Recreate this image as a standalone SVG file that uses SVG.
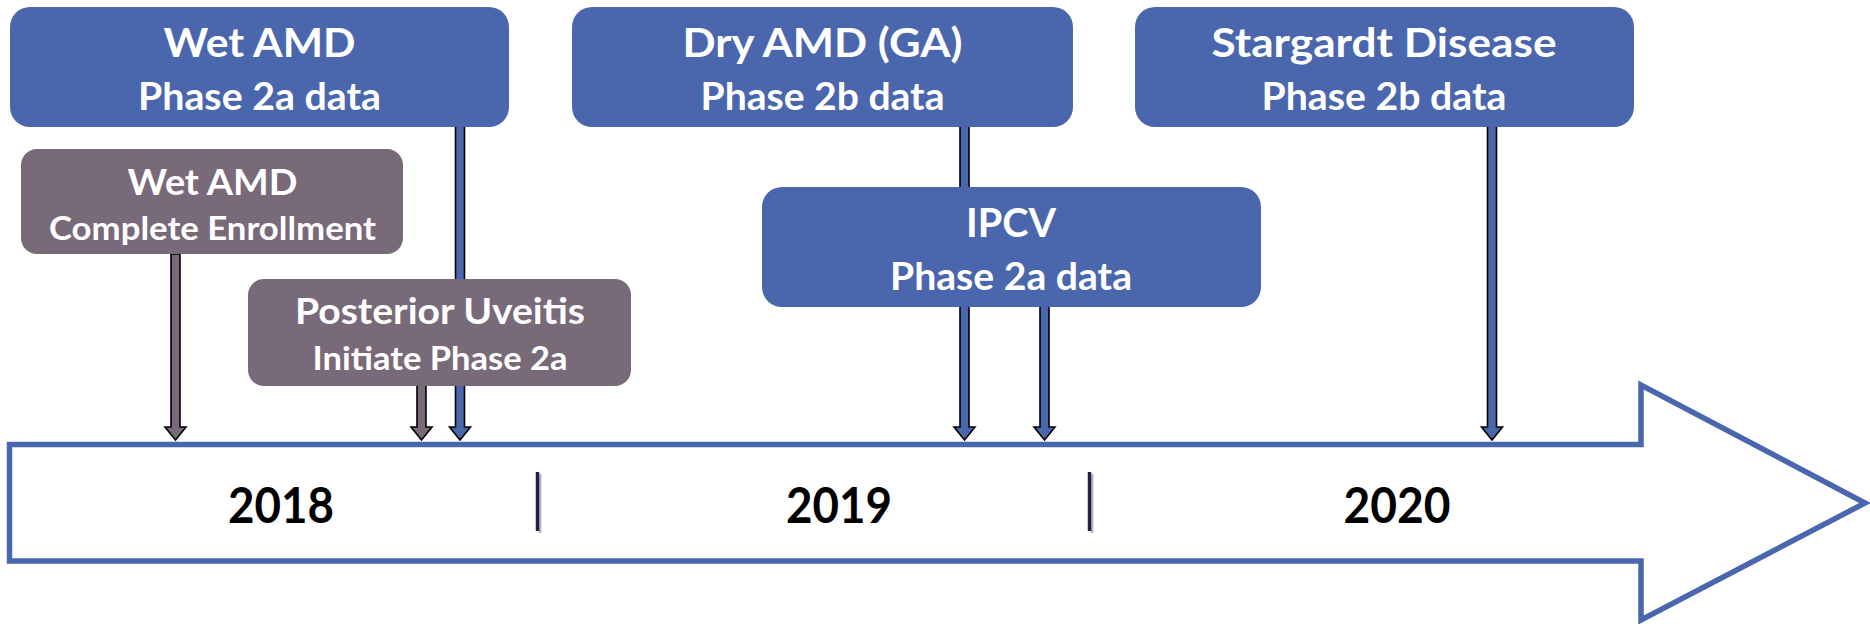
<svg xmlns="http://www.w3.org/2000/svg" width="1870" height="624" viewBox="0 0 1870 624">
<style>
.blue{fill:#4A67AD}
.grey{fill:#796A7A}
.t{font-family:Lato,"Liberation Sans",sans-serif;font-weight:700;fill:#fff;text-anchor:middle}
.h1{font-size:41px}
.h2{font-size:38px}
.g1{font-size:36px}
.g2{font-size:32px}
.yr{font-family:Lato,"Liberation Sans",sans-serif;font-weight:700;font-size:49px;fill:#000;text-anchor:middle}
.arB{fill:#4A67AD;stroke:#000;stroke-width:1.6;stroke-linejoin:miter}
.arG{fill:#796A7A;stroke:#000;stroke-width:1.6;stroke-linejoin:miter}
.tick{stroke:#1E2046;stroke-width:3.5}
.tsh{stroke:#B8B8BC;stroke-width:3}
</style>
<rect width="1870" height="624" fill="#fff"/>
<g id="timeline">
<path d="M9.5,444.5 H1641 V385 L1865,503 L1641,620 V561 H9.5 Z" fill="#fff" stroke="#4A67AD" stroke-width="5.5" stroke-linejoin="miter"/>
<line class="tsh" x1="540" y1="474" x2="540" y2="533"/>
<line class="tick" x1="537.5" y1="472" x2="537.5" y2="531"/>
<line class="tsh" x1="1092" y1="474" x2="1092" y2="533"/>
<line class="tick" x1="1089.5" y1="472" x2="1089.5" y2="531"/>
<text class="yr" x="281" y="523" textLength="106" lengthAdjust="spacingAndGlyphs">2018</text>
<text class="yr" x="839" y="523" textLength="106" lengthAdjust="spacingAndGlyphs">2019</text>
<text class="yr" x="1397" y="523" textLength="107" lengthAdjust="spacingAndGlyphs">2020</text>
</g>
<g id="connectors">
<path class="arG" d="M171,254 V427 H165 L175.5,440 L186,427 H180 V254 Z"/>
<path class="arG" d="M417,385 V427 H411 L421.5,440 L432,427 H426 V385 Z"/>
<path class="arB" d="M455.5,126 V427 H449.5 L460,440 L470.5,427 H464.5 V126 Z"/>
<path class="arB" d="M960,126 V427 H954 L964.5,440 L975,427 H969 V126 Z"/>
<path class="arB" d="M1040,306 V427 H1034 L1044.5,440 L1055,427 H1049 V306 Z"/>
<path class="arB" d="M1487.5,126 V427 H1481.5 L1492,440 L1502.5,427 H1496.5 V126 Z"/>
</g>
<g id="wet-amd-data">
<rect class="blue" x="10" y="7" width="499" height="120" rx="20"/>
<text class="t h1" x="259.5" y="57" textLength="192" lengthAdjust="spacingAndGlyphs">Wet AMD</text>
<text class="t h2" x="259.5" y="110" textLength="243" lengthAdjust="spacingAndGlyphs">Phase 2a data</text>
</g>
<g id="wet-amd-enrollment">
<rect class="grey" x="21" y="149" width="382" height="105" rx="16"/>
<text class="t g1" x="212.5" y="195" textLength="170" lengthAdjust="spacingAndGlyphs">Wet AMD</text>
<text class="t g2" x="212.5" y="240" textLength="327" lengthAdjust="spacingAndGlyphs">Complete Enrollment</text>
</g>
<g id="posterior-uveitis">
<rect class="grey" x="248" y="279" width="383" height="107" rx="16"/>
<text class="t g1" x="440" y="324" textLength="290" lengthAdjust="spacingAndGlyphs">Posterior Uveitis</text>
<text class="t g2" x="440" y="370" textLength="255" lengthAdjust="spacingAndGlyphs">Initiate Phase 2a</text>
</g>
<g id="dry-amd">
<rect class="blue" x="572" y="7" width="501" height="120" rx="20"/>
<text class="t h1" x="822.5" y="57" textLength="280" lengthAdjust="spacingAndGlyphs">Dry AMD (GA)</text>
<text class="t h2" x="822.5" y="110" textLength="244" lengthAdjust="spacingAndGlyphs">Phase 2b data</text>
</g>
<g id="ipcv">
<rect class="blue" x="762" y="187" width="499" height="120" rx="20"/>
<text class="t h1" x="1011" y="237" textLength="90" lengthAdjust="spacingAndGlyphs">IPCV</text>
<text class="t h2" x="1011" y="290" textLength="242" lengthAdjust="spacingAndGlyphs">Phase 2a data</text>
</g>
<g id="stargardt">
<rect class="blue" x="1135" y="7" width="499" height="120" rx="20"/>
<text class="t h1" x="1384" y="57" textLength="345" lengthAdjust="spacingAndGlyphs">Stargardt Disease</text>
<text class="t h2" x="1384" y="110" textLength="245" lengthAdjust="spacingAndGlyphs">Phase 2b data</text>
</g>
</svg>
